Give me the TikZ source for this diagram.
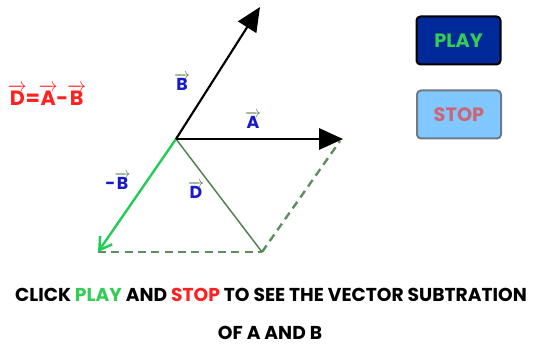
\documentclass[tikz,border=0pt]{standalone}
\usepackage{fontspec}
\setmainfont{Poppins}
\usetikzlibrary{arrows.meta}
\definecolor{playfill}{HTML}{002A99}
\definecolor{playtxt}{HTML}{33CC55}
\definecolor{stopfill}{HTML}{80C8FF}
\definecolor{stoptxt}{HTML}{CC6677}
\definecolor{stopedge}{HTML}{6E7A86}
\definecolor{negb}{HTML}{22CC55}
\definecolor{dgreen}{HTML}{4E8050}
\definecolor{dashgreen}{HTML}{5E8E5E}
\definecolor{lblue}{HTML}{1A1ACC}
\definecolor{vred}{HTML}{FF2020}
\newcommand{\vlab}[3]{\ensuremath{{\color{#1}\overrightarrow{\hbox{\color{#2}#3}}}}}
\begin{document}
\begin{tikzpicture}[x=0.75pt,y=-0.75pt,
  vecline/.style={line width=1.6pt,-{Triangle[length=18pt,width=16pt]}},
  button/.style={rounded corners=3pt,line width=1.5pt,minimum width=63pt,minimum height=36pt,font=\bfseries\fontsize{14.5}{16}\selectfont},
  lbl/.style={font=\bfseries\fontsize{13}{15}\selectfont,text=lblue,inner sep=0pt},
  dashl/.style={dashgreen,line width=1.8pt,dash pattern=on 6pt off 4pt}]
\useasboundingbox (0,0) rectangle (543,346);
\coordinate (O) at (176,139);
\coordinate (Atip) at (343,139);
\coordinate (Btip) at (260,7);
\coordinate (NB) at (98,252);
\coordinate (Dend) at (262,252);
% dashed parallelogram sides
\draw[dashl] (NB) -- (Dend);
\draw[dashl] (Dend) -- (340,141);
% D
\draw[dgreen,line width=1.1pt] (O) -- (Dend);
% -B
\draw[negb,line width=1.8pt,-{Straight Barb[length=9pt,width=11pt,line width=1.8pt]}] (O) -- (NB);
% A and B
\draw[vecline] (O) -- (Atip);
\draw[vecline] (O) -- (Btip);
% labels
\node[lbl] (lB) at (182,82) {\vlab{dgreen}{lblue}{B}};
\node[lbl] (lA) at (253,120) {\vlab{dgreen}{lblue}{A}};
\node[lbl] (lNB) at (118,181) {-\kern-0.5pt\vlab{dgreen}{lblue}{B}};
\node[lbl] (lD) at (196,190) {\vlab{dgreen}{lblue}{D}};
\node[font=\bfseries\fontsize{15.5}{18}\selectfont,text=vred,inner sep=0pt] (formula) at (47,95)
  {\vlab{vred}{vred}{D}\kern-1pt=\kern-1pt\vlab{vred}{vred}{A}\kern-1pt-\kern-1pt\vlab{vred}{vred}{B}};
% buttons
\node[button,draw=black,fill=playfill,text=playtxt] (play) at (458.5,40.5) {PLAY};
\node[button,draw=stopedge,fill=stopfill,text=stoptxt] (stop) at (459,114.5) {STOP};
% bottom text
\node[font=\bfseries\fontsize{14}{16}\selectfont,inner sep=0pt] (line1) at (271,295)
  {CLICK {\color{playtxt}PLAY} AND {\color{vred}STOP} TO SEE THE VECTOR SUBTRATION};
\node[font=\bfseries\fontsize{14}{16}\selectfont,inner sep=0pt] (line2) at (270,333) {OF A AND B};
\end{tikzpicture}
\end{document}
